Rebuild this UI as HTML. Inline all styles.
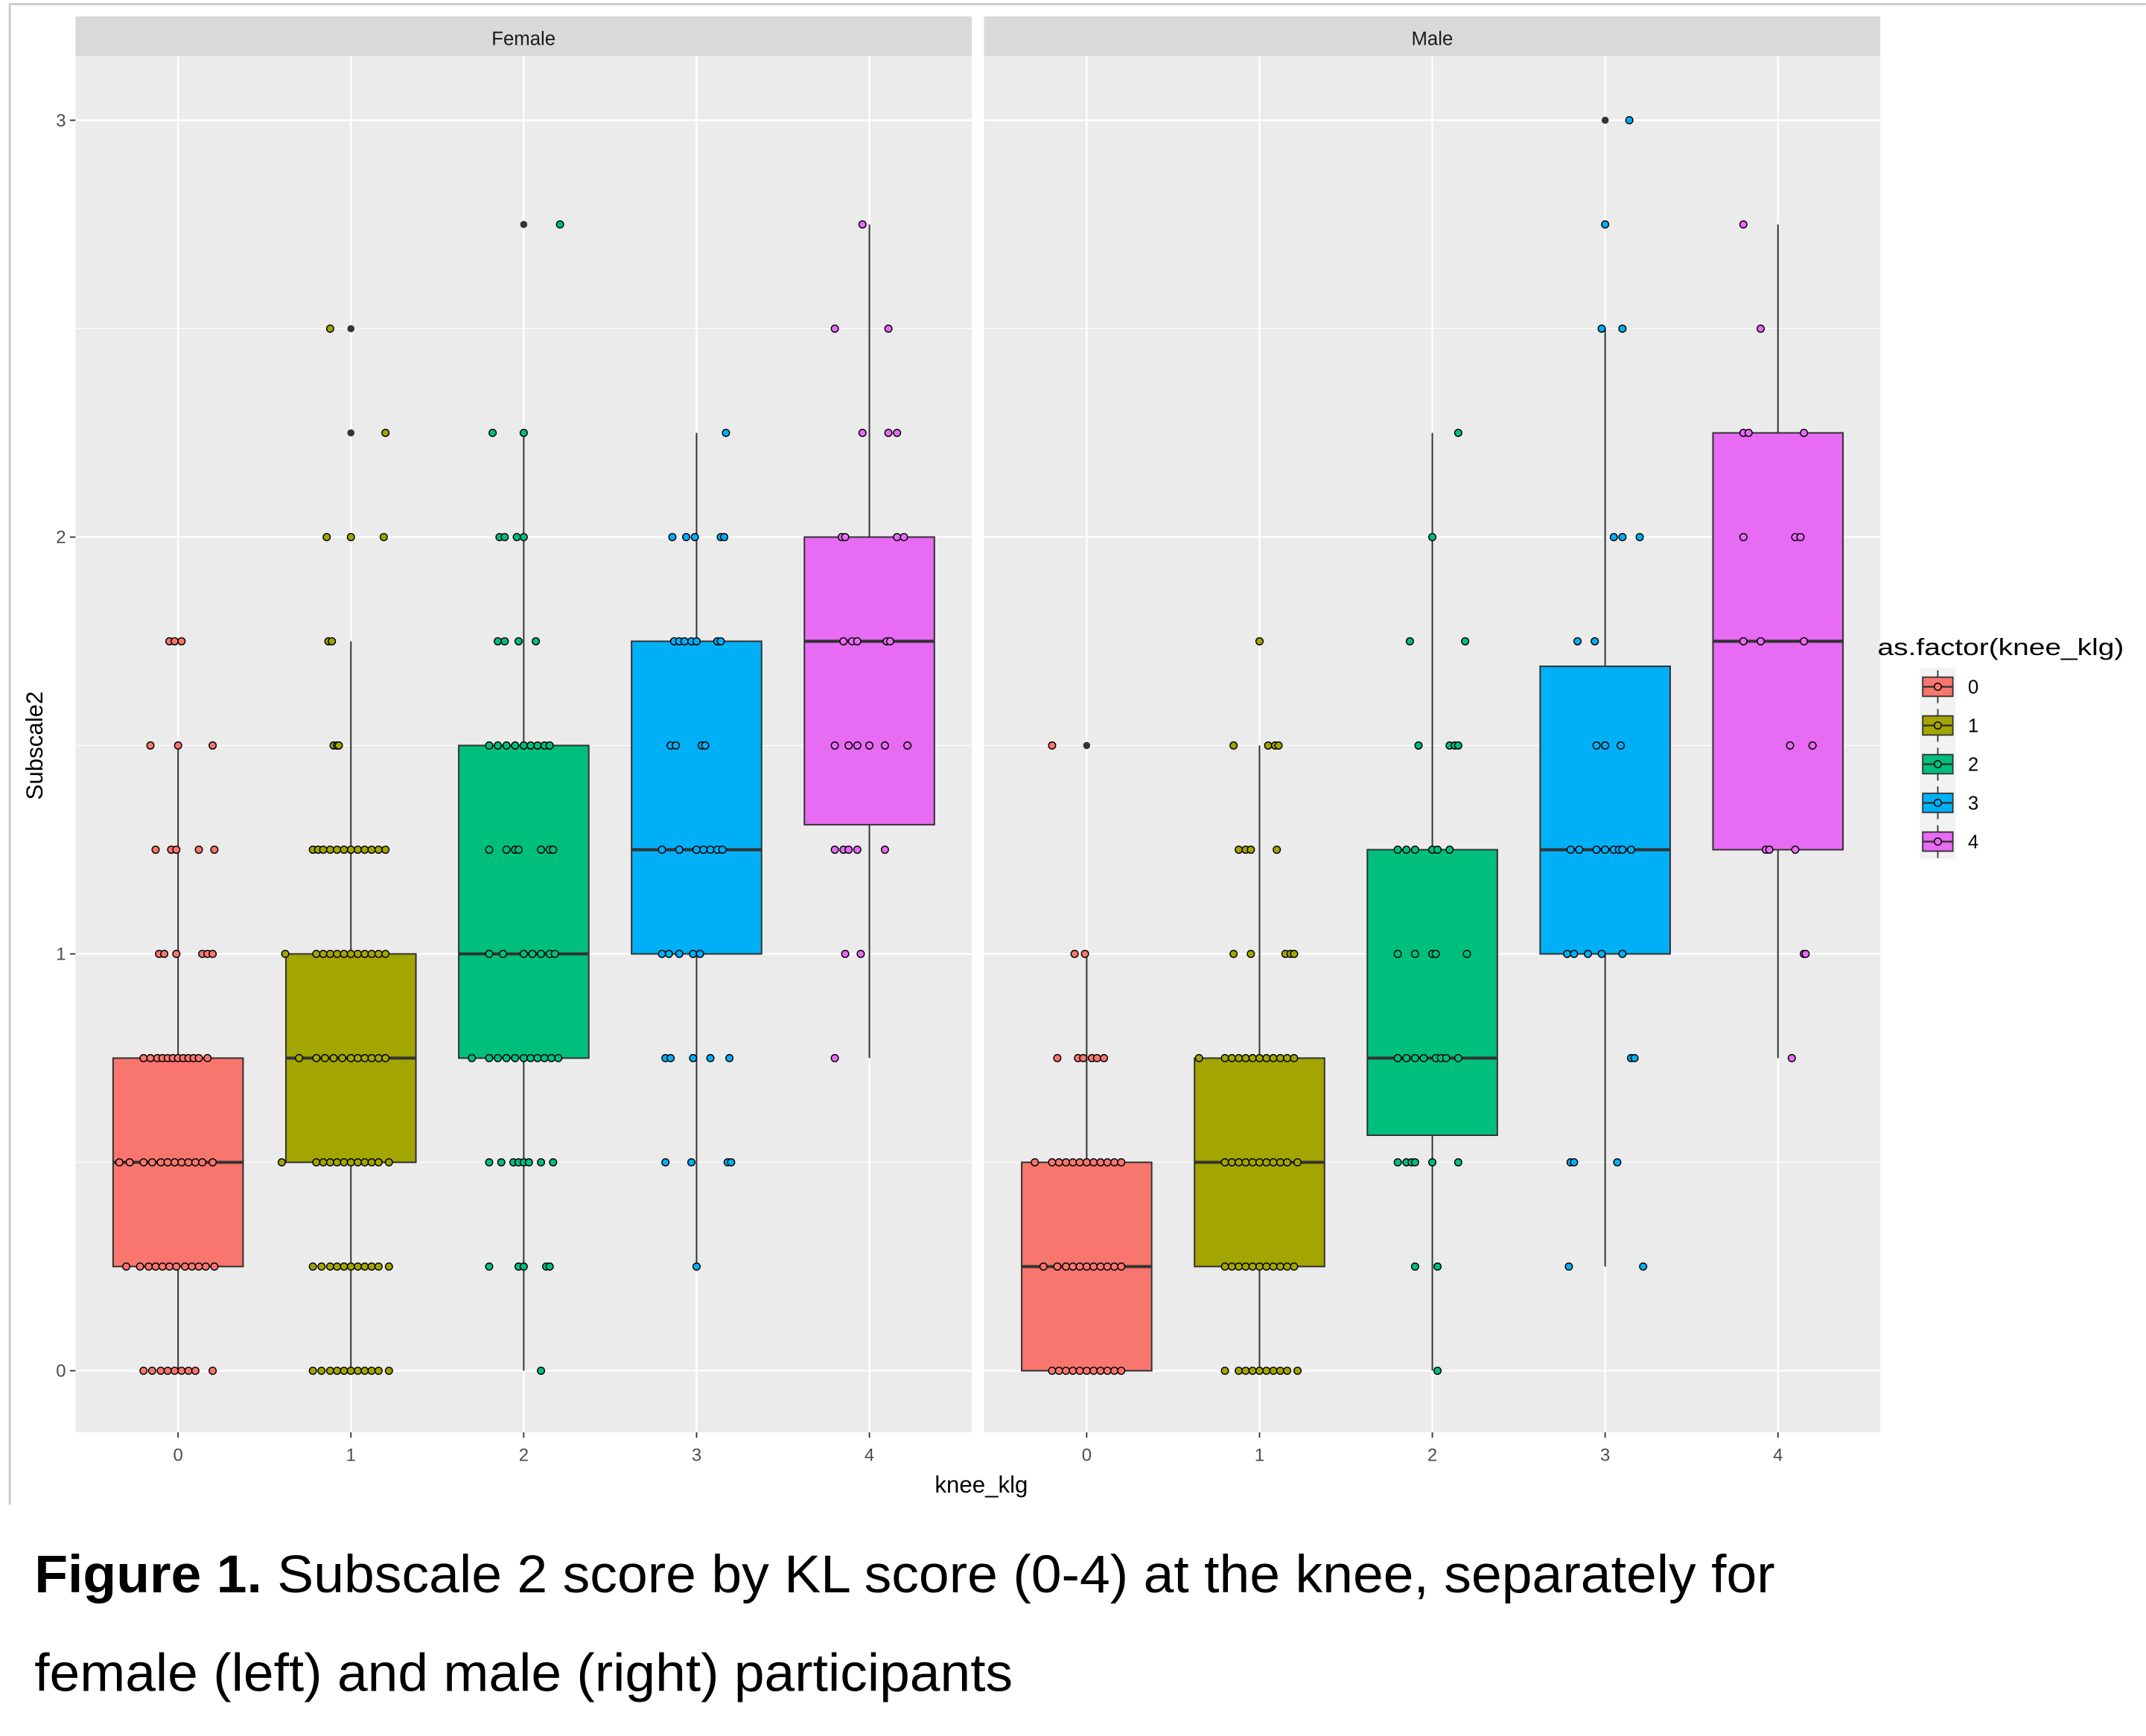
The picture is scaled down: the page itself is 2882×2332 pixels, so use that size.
<!DOCTYPE html>
<html><head><meta charset="utf-8">
<style>
html,body{margin:0;padding:0;background:#fff;}
svg{display:block;}
text{font-family:"Liberation Sans",Arial,sans-serif;}
</style></head>
<body>
<svg id="chart" width="2882" height="2332" viewBox="0 0 1568 1269" xmlns="http://www.w3.org/2000/svg">
<rect x="0" y="0" width="1568" height="1269" fill="#fff"/>
<path d="M7,1100 V3 H1568" fill="none" stroke="#c8c8c8" stroke-width="1.5"/>
<g id="plot"></g>
<text x="25" y="1164" font-size="39" fill="#000" textLength="1272" lengthAdjust="spacingAndGlyphs"><tspan font-weight="bold">Figure 1.</tspan> Subscale 2 score by KL score (0-4) at the knee, separately for</text>
<text x="25" y="1236" font-size="39" fill="#000" textLength="715" lengthAdjust="spacingAndGlyphs">female (left) and male (right) participants</text>
</svg>
<script>
const categories = ["0","1","2","3","4"];
const panels = ["Female","Male"];
const colors = ["#F8766D","#A3A500","#00BF7D","#00B0F6","#E76BF3"];
const yTicks = [0,1,2,3];
const femaleQ1 = [0.25,0.5,0.75,1.0,1.31];
const femaleMed = [0.5,0.75,1.0,1.25,1.75];
const femaleQ3 = [0.75,1.0,1.5,1.75,2.0];
const femaleLo = [0,0,0,0.25,0.75];
const femaleHi = [1.5,1.75,2.25,2.25,2.75];
const maleQ1 = [0,0.25,0.565,1.0,1.25];
const maleMed = [0.25,0.5,0.75,1.25,1.75];
const maleQ3 = [0.5,0.75,1.25,1.69,2.25];
const maleLo = [0,0,0,0.25,0.75];
const maleHi = [1.0,1.5,2.25,2.5,2.75];
// outliers: [panel, category, value]
const outliers = [[0,1,2.5],[0,1,2.25],[0,2,2.75],[1,0,1.5],[1,3,3.0]];
// jittered points: per panel, per category: [value, jitter offsets...]
const femalePts = [
 [[1.75,-.05,-.02,.02],[1.5,-.16,0,.2],[1.25,-.13,-.04,-.01,.12,.21],[1.0,-.11,-.08,-.01,.14,.17,.2],[0.75,-.2,-.16,-.12,-.09,-.06,-.03,0,.03,.06,.09,.12,.17],[0.5,-.34,-.28,-.2,-.15,-.1,-.06,-.02,.02,.06,.1,.14,.2],[0.25,-.3,-.22,-.17,-.13,-.09,-.05,-.01,.04,.08,.12,.16,.21],[0,-.2,-.15,-.1,-.06,-.02,.02,.06,.1,.2]],
 [[2.5,-.12],[2.25,.2],[2.0,-.14,0,.19],[1.75,-.13,-.11],[1.5,-.1,-.08,-.07],[1.25,-.22,-.19,-.16,-.12,-.08,-.04,0,.04,.08,.12,.16,.2],[1.0,-.38,-.2,-.16,-.12,-.08,-.04,0,.04,.08,.12,.16,.2],[0.75,-.3,-.2,-.15,-.1,-.05,0,.04,.08,.12,.16,.2],[0.5,-.4,-.2,-.16,-.12,-.08,-.04,0,.04,.08,.12,.16,.22],[0.25,-.22,-.17,-.12,-.08,-.04,0,.04,.08,.12,.16,.22],[0,-.22,-.17,-.12,-.08,-.04,0,.04,.08,.12,.16,.22]],
 [[2.75,.21],[2.25,-.18,0],[2.0,-.14,-.11,-.04,0],[1.75,-.15,-.11,-.03,.07],[1.5,-.2,-.15,-.1,-.05,0,.04,.08,.12,.15],[1.25,-.2,-.1,-.05,-.03,.1,.15,.17],[1.0,-.2,-.12,0,.05,.1,.15,.18],[0.75,-.3,-.2,-.15,-.1,-.05,0,.04,.08,.12,.16,.2],[0.5,-.2,-.13,-.06,-.03,0,.03,.1,.17],[0.25,-.2,-.03,0,.13,.15],[0,.1]],
 [[2.25,.17],[2.0,-.14,-.06,-.01,.14,.16],[1.75,-.13,-.1,-.07,-.03,0,.12,.14],[1.5,-.15,-.12,.03,.05],[1.25,-.2,-.1,0,.04,.08,.12,.15],[1.0,-.2,-.16,-.1,-.02,.02],[0.75,-.18,-.15,-.02,.08,.19],[0.5,-.18,-.03,.18,.2],[0.25,0]],
 [[2.75,-.04],[2.5,-.2,.11],[2.25,-.04,.11,.16],[2.0,-.16,-.14,.16,.2],[1.75,-.15,-.1,-.07,.1,.12],[1.5,-.2,-.12,-.07,0,.09,.22],[1.25,-.2,-.15,-.12,-.07,.09],[1.0,-.14,-.05],[0.75,-.2]]
];
const malePts = [
 [[1.5,-.2],[1.0,-.07,-.01],[0.75,-.17,-.05,-.02,.03,.06,.1],[0.5,-.3,-.2,-.16,-.12,-.08,-.04,0,.04,.08,.12,.16,.2],[0.25,-.25,-.17,-.12,-.08,-.04,0,.04,.08,.12,.16,.2],[0,-.2,-.16,-.12,-.08,-.04,0,.04,.08,.12,.16,.2]],
 [[1.75,0],[1.5,-.15,.05,.09,.11],[1.25,-.12,-.08,-.05,.1],[1.0,-.15,-.05,.15,.18,.2],[0.75,-.35,-.2,-.16,-.12,-.08,-.04,0,.04,.08,.12,.16,.2],[0.5,-.2,-.16,-.12,-.08,-.04,0,.04,.08,.12,.16,.22],[0.25,-.2,-.16,-.12,-.08,-.04,0,.04,.08,.12,.16,.2],[0,-.2,-.12,-.08,-.04,0,.04,.08,.12,.16,.22]],
 [[2.25,.15],[2.0,0],[1.75,-.13,.19],[1.5,-.08,.1,.13,.15],[1.25,-.2,-.15,-.1,0,.03,.1],[1.0,-.2,-.1,0,.02,.2],[0.75,-.2,-.15,-.1,-.05,.02,.05,.08,.15],[0.5,-.2,-.15,-.12,-.1,0,.15],[0.25,-.1,.03],[0,.03]],
 [[3.0,.14],[2.75,0],[2.5,-.02,.1],[2.0,.05,.1,.2],[1.75,-.16,-.06],[1.5,-.05,0,.09],[1.25,-.2,-.15,-.05,0,.05,.08,.1,.15],[1.0,-.22,-.18,-.1,-.02,.1],[0.75,.15,.17],[0.5,-.2,-.18,.07],[0.25,-.21,.22]],
 [[2.75,-.2],[2.5,-.1],[2.25,-.2,-.17,.15],[2.0,-.2,.1,.13],[1.75,-.2,-.1,.15],[1.5,.07,.2],[1.25,-.07,-.05,.1],[1.0,.15,.16],[0.75,.08]]
];

const NS = "http://www.w3.org/2000/svg";
const g = document.getElementById("plot");
const panelX = [55, 719], panelW = 655, plotTop = 41, plotBot = 1047;
const catStep = 126.3, catOffset = 75;
function yScale(v){ return 1002 - 304.7 * v; }
function xScale(p, c){ return panelX[p] + catOffset + c * catStep; }
function mk(tag, attrs, parent){
  const e = document.createElementNS(NS, tag);
  for (const k in attrs) e.setAttribute(k, attrs[k]);
  (parent || g).appendChild(e);
  return e;
}
const Q1 = [femaleQ1, maleQ1], MED = [femaleMed, maleMed], Q3 = [femaleQ3, maleQ3], LO = [femaleLo, maleLo], HI = [femaleHi, maleHi], PTS = [femalePts, malePts];

for (let p = 0; p < 2; p++) {
  const bg = mk("rect", {x: panelX[p], y: plotTop, width: panelW, height: plotBot - plotTop, fill: "#EBEBEB"});
  
  
  const strip = mk("rect", {x: panelX[p], y: 12, width: panelW, height: 29, fill: "#D9D9D9"});
  
  
  const st = mk("text", {x: panelX[p] + panelW / 2, y: 33, "font-size": 14, fill: "#1A1A1A", "text-anchor": "middle"});
  st.textContent = panels[p];
  
  
  for (let i = 0; i < yTicks.length - 1; i++) {
    const v = (yTicks[i] + yTicks[i + 1]) / 2;
    mk("line", {x1: panelX[p], x2: panelX[p] + panelW, y1: yScale(v), y2: yScale(v), stroke: "#fff", "stroke-width": 0.6});
  }
  yTicks.forEach(t => {
    const l = mk("line", {x1: panelX[p], x2: panelX[p] + panelW, y1: yScale(t), y2: yScale(t), stroke: "#fff", "stroke-width": 1.3});
    
    
  });
  categories.forEach((c, i) => {
    const x = xScale(p, i);
    const l = mk("line", {x1: x, x2: x, y1: plotTop, y2: plotBot, stroke: "#fff", "stroke-width": 1.3});
    
    
    mk("line", {x1: x, x2: x, y1: plotBot, y2: plotBot + 4, stroke: "#333", "stroke-width": 1});
    const t = mk("text", {x: x, y: 1068, "font-size": 13, fill: "#4D4D4D", "text-anchor": "middle"});
    t.textContent = c;
    
    
  });
  categories.forEach((c, i) => {
    const x = xScale(p, i), hw = 47.5;
    const wg = mk("line", {x1: x, x2: x, y1: yScale(HI[p][i]), y2: yScale(LO[p][i]), stroke: "#333", "stroke-width": 1.1});
    
    
    const b = mk("rect", {x: x - hw, y: yScale(Q3[p][i]), width: 2 * hw, height: yScale(Q1[p][i]) - yScale(Q3[p][i]), fill: colors[i], stroke: "#333", "stroke-width": 1.1});
    
    
    const m = mk("line", {x1: x - hw, x2: x + hw, y1: yScale(MED[p][i]), y2: yScale(MED[p][i]), stroke: "#333", "stroke-width": 2.2});
    
    
  });
  PTS[p].forEach((rows, i) => {
    rows.forEach(row => {
      const v = row[0];
      for (let j = 1; j < row.length; j++) {
        const pt = mk("circle", {cx: xScale(p, i) + row[j] * catStep, cy: yScale(v), r: 2.6, fill: colors[i], stroke: "#000", "stroke-width": 0.8});
        
        
      }
    });
  });
}
outliers.forEach(o => {
  const pt = mk("circle", {cx: xScale(o[0], o[1]), cy: yScale(o[2]), r: 2.6, fill: "#333"});
  
  
});
yTicks.forEach(t => {
  mk("line", {x1: 51, x2: 55, y1: yScale(t), y2: yScale(t), stroke: "#333", "stroke-width": 1});
  const tx = mk("text", {x: 48, y: yScale(t) + 4.5, "font-size": 13, fill: "#4D4D4D", "text-anchor": "end"});
  tx.textContent = t;
  
  
});
const yt = mk("text", {x: 0, y: 0, "font-size": 17, fill: "#000", "text-anchor": "middle", transform: "translate(31,545) rotate(-90)"});
yt.textContent = "Subscale2";


const xt = mk("text", {x: 717, y: 1091, "font-size": 17, fill: "#000", "text-anchor": "middle"});
xt.textContent = "knee_klg";


const lt = mk("text", {x: 1372, y: 479, "font-size": 17, fill: "#000", textLength: 180, lengthAdjust: "spacingAndGlyphs"});
lt.textContent = "as.factor(knee_klg)";


mk("rect", {x: 1403, y: 488, width: 26, height: 140, fill: "#F2F2F2"});
categories.forEach((c, i) => {
  const cy = 502 + i * 28.3;
  const key = mk("g", {});
  
  
  mk("line", {x1: 1416, x2: 1416, y1: cy - 12, y2: cy + 12, stroke: "#333", "stroke-width": 1}, key);
  mk("rect", {x: 1405, y: cy - 7, width: 22, height: 14, fill: colors[i], stroke: "#333", "stroke-width": 1}, key);
  mk("line", {x1: 1405, x2: 1427, y1: cy, y2: cy, stroke: "#333", "stroke-width": 1.3}, key);
  mk("circle", {cx: 1416, cy: cy, r: 2.6, fill: colors[i], stroke: "#000", "stroke-width": 0.8}, key);
  const t = mk("text", {x: 1438, y: cy + 5, "font-size": 14, fill: "#000"}, key);
  t.textContent = c;
});
</script>
</body></html>
